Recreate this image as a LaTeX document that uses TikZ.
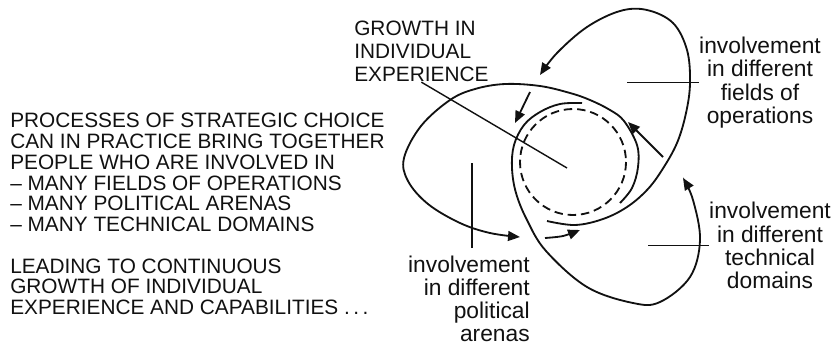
\documentclass[tikz,border=0pt]{standalone}
\usepackage{fontspec}
\setmainfont{Liberation Sans}
\usepackage{xcolor}
\usepackage{tikz}
\usetikzlibrary{arrows.meta,calc}
\definecolor{inkmain}{HTML}{111111}
\tikzset{every node/.append style={font=\rmfamily}}
\tikzset{
  capsnote/.style={inkmain,inner sep=0pt,align=left,
    font=\fontsize{14.8}{14.75}\selectfont},
  lownote/.style={inkmain,inner sep=0pt,align=center,
    font=\fontsize{16.2}{16.5}\selectfont},
  loopline/.style={inkmain,line width=1.3pt},
  leader/.style={inkmain,line width=1pt}
}

\begin{document}
\begin{tikzpicture}[>={Triangle[length=8.5pt,width=7pt]},x=.025cm,y=-.025cm]
  % one unit = one pixel of the 839x345 sheet, y runs downwards
  \useasboundingbox (0,0) rectangle (839,345);
  \node[capsnote,anchor=north west] (intro) at (10,113)
    {PROCESSES OF STRATEGIC CHOICE\\ CAN IN PRACTICE BRING TOGETHER\\
     PEOPLE WHO ARE INVOLVED IN\\ – MANY FIELDS OF OPERATIONS\\
     – MANY POLITICAL ARENAS\\ – MANY TECHNICAL DOMAINS\\[14.75pt]
     LEADING TO CONTINUOUS\\ GROWTH OF INDIVIDUAL\\
     EXPERIENCE AND CAPABILITIES\ .\,.\,.};
  \node[capsnote,anchor=north west,font=\fontsize{14.8}{16.3}\selectfont]
    (growth) at (354,21) {GROWTH IN\\ INDIVIDUAL\\ EXPERIENCE};
  \node[lownote,anchor=north] (fields) at (760,37)
    {involvement\\ in different\\ fields of\\ operations};
  \node[lownote,anchor=north] (technical) at (770,202)
    {involvement\\ in different\\ technical\\ domains};
  \node[lownote,align=right,anchor=north east,outer ysep=5.5pt] (political)
    at (530,248) {involvement\\ in different\\ political\\ arenas};
  % the growing experience in the middle
  \draw[loopline,dash pattern=on 6pt off 3.5pt] (573,162) circle[radius=53];
  % political arenas loop
  \draw[loopline,->] plot[smooth,tension=.6] coordinates {(620,203) (632,188)
    (638,167) (637,145) (624,121) (610,110) (590,100) (570,93) (540,86)
    (505,84) (475,89) (450,100) (421,126) (404,158) (408,181) (428,204)
    (460,223) (490,233) (520,237)};
  \draw[loopline,->] plot[smooth] coordinates {(545,238) (563,236) (580,230)};
  % fields of operations loop
  \draw[loopline,->] plot[smooth,tension=.6] coordinates {(547,221) (575,225)
    (603,219) (627,207) (647,190) (662,170) (677,143) (686,113) (690,83)
    (687,50) (673,23) (647,10) (620,11) (587,27) (557,53) (540,75)};
  \draw[loopline,->] (530,92) -- (515,123);
  % technical domains loop
  \draw[loopline,->] plot[smooth,tension=.6] coordinates {(582,103) (560,104)
    (540,112) (524,125) (514,145) (512,168) (516,193) (527,220) (546,251)
    (587,287) (633,303) (660,302) (690,277) (700,240) (693,200) (683,178)};
  \draw[loopline,->] (663,157) -- (628,122);
  % leaders to the labels
  \coordinate (hub) at (567,168);
  \coordinate (fieldstip) at (627,81);
  \coordinate (techtip) at (648,248);
  \coordinate (arenatip) at (472,163);
  \draw[leader] (growth.south) -- (hub);
  \draw[leader] (fields.west) -- (fields.west -| fieldstip);
  \draw[leader] (technical.west) -- (technical.west -| techtip);
  \draw[leader] (arenatip |- political.north) -- (arenatip);
\end{tikzpicture}
\end{document}
